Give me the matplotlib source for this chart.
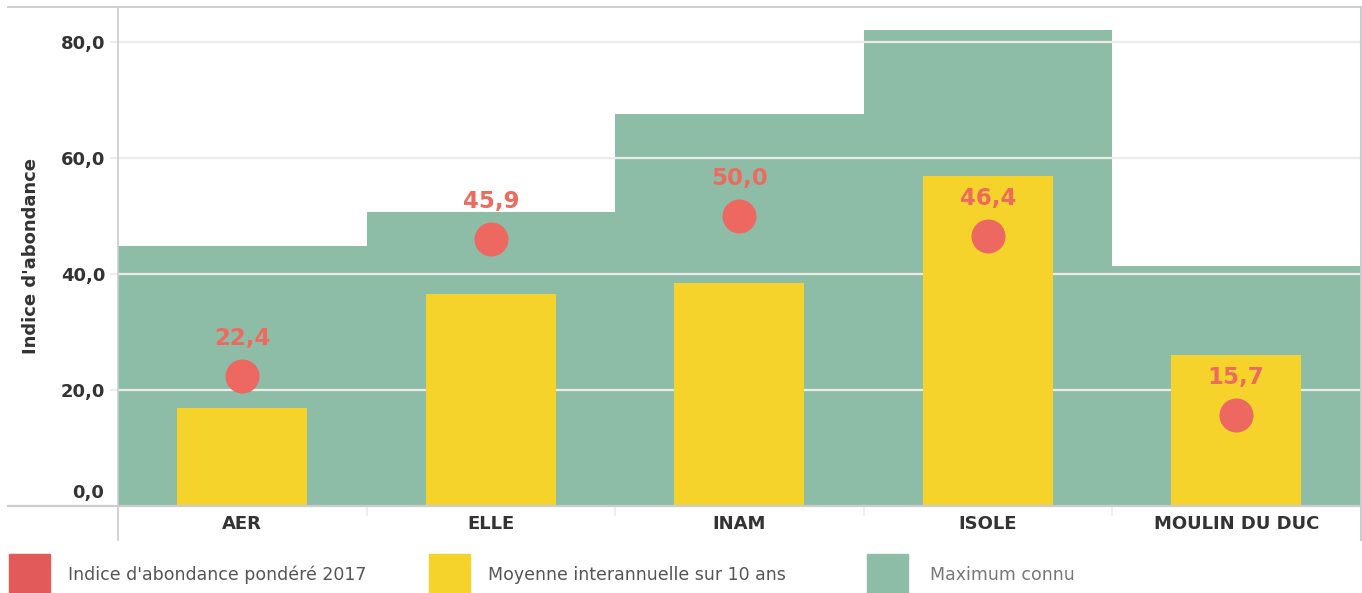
import matplotlib
matplotlib.use("Agg")
import matplotlib.pyplot as plt
from matplotlib.patches import Rectangle
from matplotlib.lines import Line2D
import numpy as np

categories = ["AER", "ELLE", "INAM", "ISOLE", "MOULIN DU DUC"]
indice_2017 = [22.4, 45.9, 50.0, 46.4, 15.7]
moyenne_10ans = [16.9, 36.4, 38.3, 56.8, 25.9]
maximum_connu = [44.7, 50.6, 67.5, 82.0, 41.3]
yticks = [0, 20, 40, 60, 80]
legend_labels = ["Indice d'abondance pondéré 2017", "Moyenne interannuelle sur 10 ans", "Maximum connu"]

RED_DOT = "#EC6860"
RED_TXT = "#EE6A5F"
RED_LEG = "#E25A5A"
YELLOW = "#F6D32A"
GREEN = "#8DBDA6"
GRID = "#ececec"
AXIS = "#cccccc"
TXT = "#333333"

W, H = 1362, 593
fig = plt.figure(figsize=(W / 100, H / 100), dpi=100)

left_px, right_px, top_px, bot_px = 118, 1360.5, 6.7, 505.7
ax = fig.add_axes([left_px / W, (H - bot_px) / H, (right_px - left_px) / W, (bot_px - top_px) / H])

x = np.arange(len(categories))
ax.bar(x, maximum_connu, width=1.0, color=GREEN, zorder=1, linewidth=0)
for yv in yticks[1:]:
    ax.axhline(yv, color=GRID, lw=1.6, zorder=2)
ax.bar(x, moyenne_10ans, width=0.525, color=YELLOW, zorder=3, linewidth=0)
ax.plot(x, indice_2017, linestyle="none", marker="o", markersize=24.5, color=RED_DOT,
        markeredgewidth=0, zorder=4)
for xi, v in zip(x, indice_2017):
    ax.annotate(f"{v:.1f}".replace(".", ","), (xi, v), xytext=(0, 27), textcoords="offset points",
                ha="center", va="center", color=RED_TXT, fontsize=16.5, fontweight="bold", zorder=5)

def fmt(v):
    return f"{v:.1f}".replace(".", ",")

ax.set_xlim(-0.5, len(categories) - 0.5)
ax.set_ylim(0, 86)
ax.set_yticks(yticks)
ax.set_yticklabels([""] + [fmt(v) for v in yticks[1:]])
ax.annotate(fmt(yticks[0]), xy=(0, yticks[0]), xycoords=ax.get_yaxis_transform(),
            xytext=(-10, 9.5), textcoords="offset points", ha="right", va="center",
            fontsize=13, fontweight="bold", color=TXT, annotation_clip=False)
ax.set_xticks(x)
ax.set_xticklabels(categories)
ax.set_xticks(np.arange(len(categories) + 1) - 0.5, minor=True)
ax.tick_params(axis="x", which="major", length=0, pad=7, labelsize=13, labelcolor=TXT)
ax.tick_params(axis="x", which="minor", length=7, color=GRID, width=1.2)
ax.tick_params(axis="y", length=6, color=GRID, width=1.5, pad=3, labelsize=13, labelcolor=TXT)
for lab in ax.get_xticklabels() + ax.get_yticklabels():
    lab.set_fontweight("bold")
for s in ax.spines.values():
    s.set_visible(False)
ax.set_ylabel("Indice d'abondance", fontsize=13, fontweight="bold", color=TXT)
ax.yaxis.set_label_coords(-0.0625, 0.5)

def fx(px):
    return px / W

def fy(py):
    return (H - py) / H

# frame lines
fig.add_artist(Line2D([fx(8), fx(right_px)], [fy(top_px), fy(top_px)], color=AXIS, lw=1.3))
fig.add_artist(Line2D([fx(8), fx(right_px)], [fy(bot_px), fy(bot_px)], color=AXIS, lw=1.6))
fig.add_artist(Line2D([fx(117.5), fx(117.5)], [fy(top_px), fy(540)], color=AXIS, lw=1.2))
fig.add_artist(Line2D([fx(1360.5), fx(1360.5)], [fy(top_px), fy(540)], color=AXIS, lw=1.5))

# legend
leg_colors = [RED_LEG, YELLOW, GREEN]
leg_patch_x = [9, 429, 867]
leg_text_x = [68, 488, 930]
leg_text_col = ["#555555", "#555555", "#777777"]
for c, px, tx, lab, tc in zip(leg_colors, leg_patch_x, leg_text_x, legend_labels, leg_text_col):
    fig.add_artist(Rectangle((fx(px), fy(593)), 41 / W, 39 / H, color=c, transform=fig.transFigure))
    fig.text(fx(tx), fy(575), lab, ha="left", va="center", fontsize=12.5, color=tc)

fig.savefig("out.png", dpi=100)
